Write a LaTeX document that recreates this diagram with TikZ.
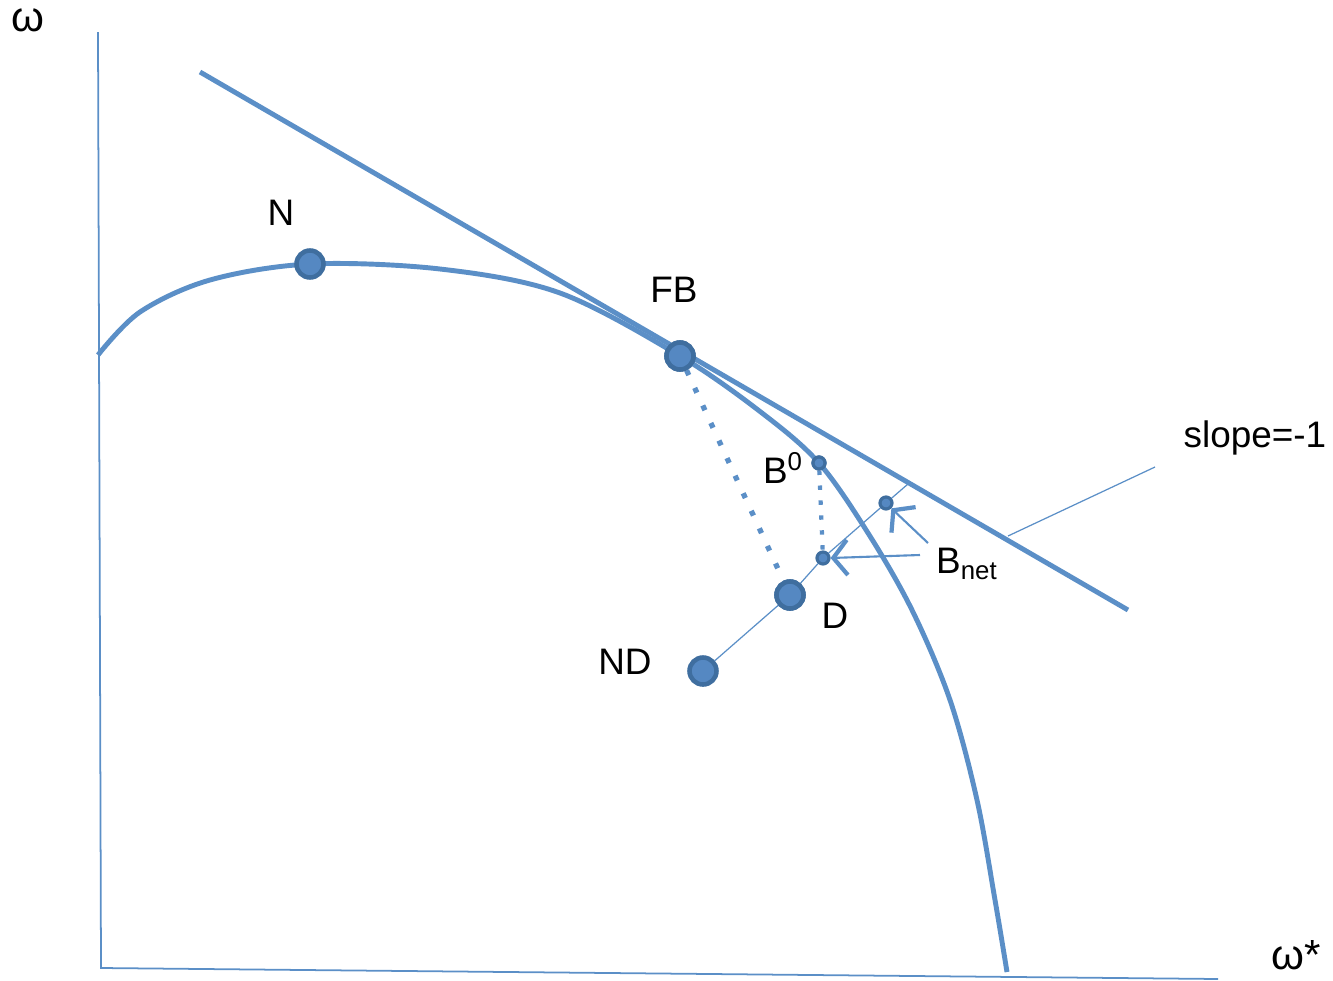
\documentclass[tikz,border=0pt]{standalone}
\usepackage{fontspec}
\setmainfont{Liberation Sans}
\usetikzlibrary{arrows.meta}
\definecolor{curveblue}{HTML}{5B8FC7}
\definecolor{dotfill}{HTML}{5588C2}
\definecolor{dotedge}{HTML}{3F6E9F}
\begin{document}
\begin{tikzpicture}[x=0.02cm,y=-0.02cm,font=\fontsize{21}{25}\selectfont,every node/.style={text=black},
    bigdot/.style={circle,draw=dotedge,fill=dotfill,line width=2.6pt,minimum size=0.54cm,inner sep=0pt},
    smalldot/.style={circle,draw=dotedge,fill=dotfill,line width=1.8pt,minimum size=0.24cm,inner sep=0pt},
    thickline/.style={curveblue,line width=2.8pt},
    thinline/.style={curveblue,line width=0.7pt},
    axislab/.style={font=\fontsize{24}{28}\selectfont,inner sep=1pt},
    bnarrow/.style={curveblue,line width=1.2pt,-{Straight Barb[line width=2.4pt,length=8pt,width=20pt]}}]
    \useasboundingbox (0,0) rectangle (1333,981);
    % axes
    \coordinate (ytop) at (98,32);
    \coordinate (orig) at (101,968);
    \coordinate (xend) at (1218,979);
    \draw[curveblue,line width=1pt] (ytop) -- (orig) -- (xend);
    \node[axislab] (wlab) at (28,20) {ω};
    \node[axislab,anchor=base] (wslab) at (1296,969) {ω*};
    % frontier
    \draw[thickline] plot[smooth,tension=0.55] coordinates {(98,355) (140,312) (210,280) (310,264) (440,269) (560,293) (680,356) (762,413) (819,463) (868,533) (912,610) (950,700) (977,800) (995,900) (1007,972)};
    % tangent line
    \coordinate (ttop) at (200,72);
    \coordinate (tbot) at (1128,610);
    \draw[thickline] (ttop) -- (tbot);
    % points
    \node[bigdot] (fb) at (680,356) {};
    \node[bigdot] (n) at (310,264) {};
    \node[bigdot] (d) at (790,595) {};
    \node[bigdot] (nd) at (703,671) {};
    \node[smalldot] (b0) at (819,463) {};
    \node[smalldot] (bn1) at (886,503) {};
    \node[smalldot] (bn2) at (823,558) {};
    \coordinate (thinend) at (908,484);
    \draw[thinline] (nd) -- (d) -- (bn2) -- (bn1) -- (thinend);
    \draw[curveblue,line width=3pt,dash pattern=on 3pt off 8pt] (fb) -- (d);
    \draw[curveblue,line width=2.4pt,dash pattern=on 2.5pt off 6pt] (b0) -- (bn2);
    % redraw dots on top
    \node[bigdot] at (fb) {};
    \node[bigdot] at (d) {};
    \node[smalldot] at (b0) {};
    % slope marker
    \coordinate (sfoot) at (1008,536);
    \coordinate (shead) at (1155,467);
    \draw[thinline] (sfoot) -- (shead);
    % labels
    \node (nlab) at (281,213) {N};
    \node (fblab) at (674,290) {FB};
    \node (b0lab) at (783,468) {B\textsuperscript{0}};
    \node[anchor=west] (bnlab) at (930,564) {B\textsubscript{net}};
    \node (dlab) at (835,616) {D};
    \node (ndlab) at (625,662) {ND};
    \node (slab) at (1255,438) {slope=-1};
    % arrows to B_net points
    \draw[bnarrow] (bnlab.west) ++(-10,-9) -- (bn2.east);
    \draw[bnarrow] (bnlab.west) ++(-2,-21) -- (bn1.south east);
\end{tikzpicture}
\end{document}
